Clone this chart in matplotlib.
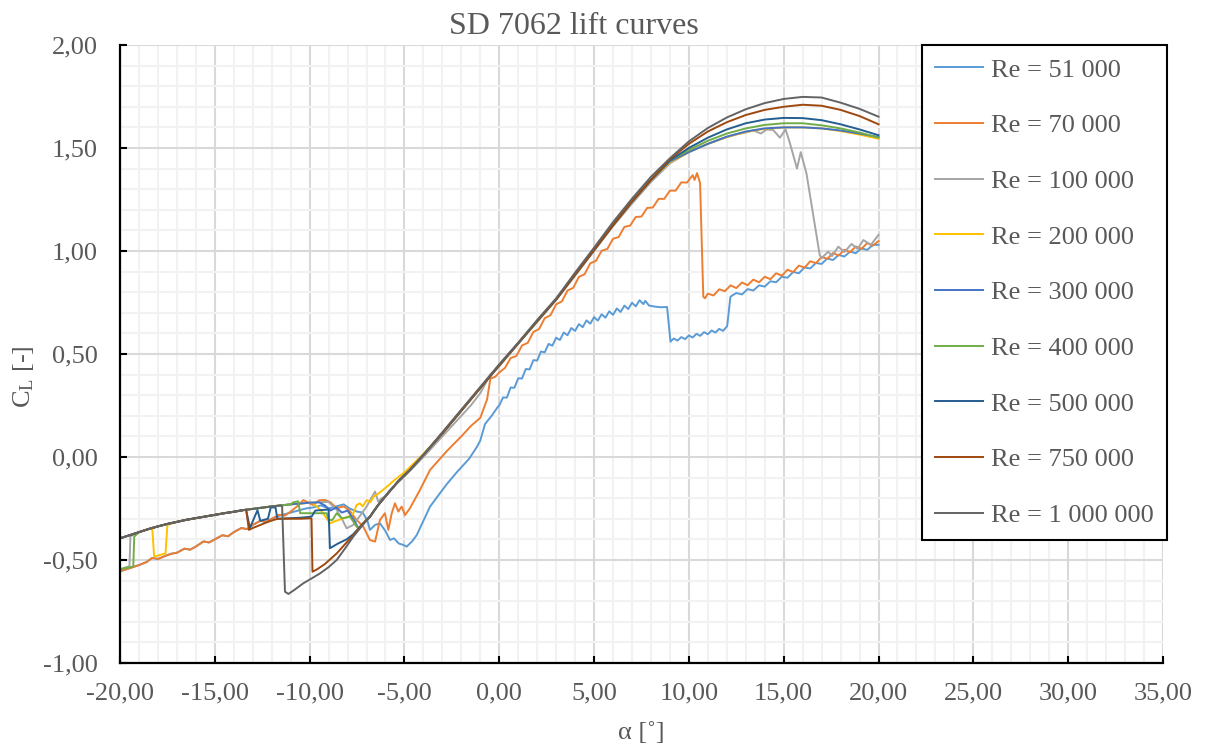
import matplotlib.pyplot as plt
from matplotlib.ticker import MultipleLocator, FuncFormatter

# ---- data (alpha in deg, CL) ----
# branch shared by most curves at strongly negative alpha
upper_a = [-20, -19.5, -19, -18.5, -18, -17.5, -17, -16.5, -16, -15.5, -15, -14.5,
           -14, -13.5, -13, -12.5, -12, -11.5, -11, -10.5, -10, -9.5, -9]
upper_cl = [-0.395, -0.38, -0.365, -0.35, -0.337, -0.325, -0.315, -0.305, -0.297, -0.289,
            -0.281, -0.273, -0.266, -0.258, -0.252, -0.246, -0.24, -0.235, -0.23, -0.226,
            -0.222, -0.22, -0.218]

# lower branch (low Re curves)
lower_a = [-20, -19.5, -19, -18.6, -18.3, -18, -17.6, -17.3, -17, -16.6, -16.3, -16, -15.6,
           -15.3, -15, -14.6, -14.3, -14, -13.6, -13.3, -13, -12.6, -12.3, -12, -11.6, -11.3, -11]
lower_cl = [-0.555, -0.54, -0.525, -0.51, -0.49, -0.495, -0.48, -0.47, -0.465, -0.445, -0.45,
            -0.435, -0.41, -0.415, -0.40, -0.38, -0.385, -0.365, -0.345, -0.35, -0.33, -0.31,
            -0.315, -0.30, -0.28, -0.285, -0.265]

# linear part shared by Re 200k - 750k
lin_a = [-6.82, -6.4, -5.94, -5.3, -4.71, -4, -3, -2, -1, 0, 1, 2, 3, 4, 5, 6, 7, 8]
lin_cl = [-0.29, -0.235, -0.184, -0.115, -0.063, 0.01, 0.115, 0.225, 0.335, 0.445, 0.552,
          0.66, 0.765, 0.885, 1.005, 1.125, 1.24, 1.345]

re51k = [(-11.6, -0.285), (-11.0, -0.27), (-10.6, -0.26), (-10.2, -0.25), (-9.8, -0.245),
         (-9.4, -0.235), (-9.0, -0.25), (-8.6, -0.24), (-8.2, -0.23), (-7.9, -0.25),
         (-7.5, -0.265), (-7.2, -0.27), (-6.95, -0.31), (-6.82, -0.354), (-6.55, -0.33),
         (-6.29, -0.322), (-6.0, -0.36), (-5.76, -0.403), (-5.55, -0.395), (-5.3, -0.42),
         (-5.06, -0.427), (-4.88, -0.435), (-4.6, -0.41), (-4.35, -0.379), (-4.0, -0.31),
         (-3.65, -0.241), (-3.2, -0.185), (-2.75, -0.13), (-2.2, -0.07), (-1.6, -0.01),
         (-1.17, 0.05), (-1.0, 0.08), (-0.75, 0.16), (-0.4, 0.2), (-0.1, 0.24),
         (0.0, 0.25), (0.2, 0.289), (0.4, 0.288), (0.6, 0.337), (0.8, 0.336), (1.0, 0.382),
         (1.2, 0.381), (1.4, 0.427), (1.6, 0.425), (1.8, 0.47), (2.0, 0.468), (2.2, 0.512),
         (2.4, 0.508), (2.6, 0.549), (2.8, 0.54), (3.0, 0.579), (3.2, 0.568), (3.4, 0.604),
         (3.6, 0.591), (3.8, 0.626), (4.0, 0.612), (4.2, 0.645), (4.4, 0.63), (4.6, 0.663),
         (4.8, 0.647), (5.0, 0.679), (5.2, 0.662), (5.4, 0.693), (5.6, 0.676), (5.8, 0.707),
         (6.0, 0.69), (6.2, 0.721), (6.4, 0.704), (6.6, 0.735), (6.8, 0.718), (7.0, 0.749),
         (7.2, 0.731), (7.4, 0.761), (7.6, 0.742), (7.7, 0.758),
         (7.9, 0.735), (8.2, 0.73), (8.5, 0.727), (8.85, 0.728), (9.03, 0.56), (9.2, 0.575),
         (9.4, 0.565), (9.6, 0.582), (9.8, 0.572), (10.0, 0.59), (10.2, 0.58), (10.4, 0.598),
         (10.6, 0.588), (10.8, 0.606), (11.0, 0.596), (11.2, 0.614), (11.4, 0.604),
         (11.6, 0.622), (11.8, 0.612), (12.02, 0.635), (12.19, 0.778),
         (12.5, 0.796), (12.8, 0.789), (13.1, 0.815), (13.4, 0.808), (13.7, 0.833),
         (14.0, 0.827), (14.3, 0.853), (14.6, 0.848), (14.9, 0.875), (15.2, 0.870),
         (15.5, 0.898), (15.8, 0.892), (16.1, 0.920), (16.4, 0.915), (16.7, 0.942),
         (17.0, 0.937), (17.3, 0.964), (17.6, 0.956), (17.9, 0.981), (18.2, 0.973),
         (18.5, 0.997), (18.8, 0.989), (19.1, 1.013), (19.4, 1.005), (19.7, 1.029), (20.0, 1.03)]

re70k = [(-10.6, -0.235), (-10.33, -0.209), (-10.1, -0.22), (-9.81, -0.233), (-9.5, -0.21),
         (-9.19, -0.209), (-8.9, -0.22), (-8.57, -0.249), (-8.2, -0.24), (-7.9, -0.26),
         (-7.52, -0.306), (-7.17, -0.338), (-6.82, -0.403), (-6.55, -0.411), (-6.29, -0.306),
         (-6.03, -0.273), (-5.85, -0.354), (-5.67, -0.273), (-5.5, -0.225), (-5.32, -0.265),
         (-5.15, -0.241), (-4.97, -0.282), (-4.71, -0.249), (-4.18, -0.16), (-3.65, -0.063),
         (-2.75, 0.03), (-2.0, 0.10), (-1.5, 0.15), (-1.0, 0.19), (-0.64, 0.28), (-0.47, 0.38),
         (-0.2, 0.39), (0.0, 0.41), (0.3, 0.432), (0.6, 0.48), (0.9, 0.49), (1.2, 0.541),
         (1.5, 0.554), (1.8, 0.607), (2.1, 0.621), (2.4, 0.674), (2.7, 0.688), (3.0, 0.741),
         (3.3, 0.755), (3.6, 0.808), (3.9, 0.821), (4.2, 0.874), (4.5, 0.887), (4.8, 0.94),
         (5.1, 0.952), (5.4, 1.001), (5.7, 1.01), (6.0, 1.059), (6.3, 1.068), (6.6, 1.117),
         (6.9, 1.123), (7.2, 1.165), (7.5, 1.167), (7.8, 1.209), (8.1, 1.211), (8.4, 1.253),
         (8.7, 1.253), (9.0, 1.293), (9.3, 1.293), (9.6, 1.333), (9.9, 1.332), (10.2, 1.368),
         (10.3, 1.345), (10.43, 1.378), (10.59, 1.33), (10.76, 0.778), (10.85, 0.77),
         (11.0, 0.793), (11.3, 0.784), (11.6, 0.814), (11.9, 0.805), (12.2, 0.833),
         (12.5, 0.82), (12.8, 0.847), (13.1, 0.834), (13.4, 0.861), (13.7, 0.848),
         (14.0, 0.875), (14.3, 0.863), (14.6, 0.892), (14.9, 0.88), (15.2, 0.909),
         (15.5, 0.898), (15.8, 0.929), (16.1, 0.919), (16.4, 0.95), (16.7, 0.941),
         (17.0, 0.971), (17.3, 0.962), (17.6, 0.99), (17.9, 0.978), (18.2, 1.006),
         (18.5, 0.994), (18.8, 1.022), (19.1, 1.01), (19.4, 1.038), (19.7, 1.026), (20.0, 1.048)]

re100k_start = [(-20, -0.545), (-19.5, -0.53), (-19.45, -0.385)]
re100k = [(-8.57, -0.257), (-8.3, -0.3), (-8.05, -0.346), (-7.7, -0.33), (-7.3, -0.28),
          (-6.99, -0.24), (-6.75, -0.2), (-6.55, -0.168), (-6.38, -0.217), (-6.2, -0.2),
          (-6.03, -0.193), (-5.76, -0.16), (-5, -0.095), (-4, 0.0), (-3, 0.1), (-2, 0.2),
          (-1.5, 0.25), (-1.0, 0.31), (-0.47, 0.40), (0, 0.44), (1, 0.55), (2, 0.655),
          (3, 0.762), (4, 0.88), (5, 1.0), (6, 1.12), (7, 1.23), (8, 1.335), (9, 1.425),
          (10, 1.48), (11, 1.52), (12, 1.553), (12.5, 1.566), (13, 1.575), (13.4, 1.585),
          (13.8, 1.57), (14.1, 1.59), (14.45, 1.587), (14.8, 1.55), (15.1, 1.59),
          (15.33, 1.523), (15.7, 1.40), (15.9, 1.48), (16.2, 1.377), (16.9, 0.98),
          (17.0, 0.965), (17.35, 0.997), (17.55, 0.975), (17.88, 1.021), (18.2, 0.995),
          (18.58, 1.034), (18.9, 1.01), (19.2, 1.053), (19.6, 1.03), (20.0, 1.078)]

re200k_dip = [(-18.3, -0.343), (-18.2, -0.484), (-17.6, -0.468), (-17.5, -0.33)]
re200k = [(-9.81, -0.225), (-9.4, -0.26), (-9.1, -0.298), (-8.93, -0.322), (-8.6, -0.31),
          (-8.22, -0.298), (-7.95, -0.29), (-7.7, -0.274), (-7.52, -0.233), (-7.35, -0.225),
          (-7.2, -0.24), (-6.99, -0.209), (-6.8, -0.22), (-6.6, -0.19), (-6.46, -0.184),
          (-6.0, -0.15), (-5.5, -0.11), (-5.0, -0.075), (-4, 0.015)]
top200k = [(9, 1.43), (10, 1.48), (11, 1.52), (12, 1.553), (13, 1.578), (14, 1.593),
           (15, 1.60), (16, 1.60), (17, 1.595), (18, 1.582), (19, 1.565), (20, 1.545)]

re300k = [(-9.2, -0.235), (-8.9, -0.26), (-8.6, -0.245), (-8.3, -0.27), (-8.0, -0.26),
          (-7.7, -0.30), (-7.4, -0.35), (-7.0, -0.305)]
top300k = [(9, 1.435), (10, 1.48), (11, 1.52), (12, 1.555), (13, 1.58), (14, 1.595),
           (15, 1.60), (16, 1.60), (17, 1.595), (18, 1.585), (19, 1.57), (20, 1.553)]

re400k_start = [(-20, -0.545), (-19.3, -0.532), (-19.25, -0.387)]
re400k = [(-10.86, -0.22), (-10.6, -0.215), (-10.5, -0.273), (-9.8, -0.273), (-9.1, -0.273),
          (-9.0, -0.306), (-8.8, -0.306), (-8.57, -0.273), (-8.3, -0.298), (-7.87, -0.29),
          (-7.52, -0.338), (-7.43, -0.346), (-7.0, -0.305)]
top400k = [(9, 1.44), (10, 1.49), (11, 1.535), (12, 1.57), (13, 1.595), (14, 1.612),
           (15, 1.62), (16, 1.62), (17, 1.61), (18, 1.595), (19, 1.575), (20, 1.55)]

re500k = [(-13.35, -0.256), (-13.15, -0.345), (-12.75, -0.258), (-12.6, -0.31),
          (-12.2, -0.30), (-12.05, -0.245), (-11.8, -0.245), (-11.7, -0.30), (-10.5, -0.295),
          (-9.9, -0.29), (-9.7, -0.26), (-9.0, -0.255), (-8.93, -0.443), (-8.5, -0.42),
          (-8.05, -0.40), (-7.7, -0.375), (-7.2, -0.325)]
top500k = [(9, 1.44), (10, 1.50), (11, 1.55), (12, 1.59), (13, 1.62), (14, 1.638),
           (15, 1.646), (16, 1.645), (17, 1.635), (18, 1.615), (19, 1.59), (20, 1.562)]

re750k = [(-13.35, -0.256), (-13.2, -0.354), (-13.0, -0.345), (-12.6, -0.33), (-12.2, -0.315),
          (-11.7, -0.30), (-11.0, -0.30), (-10.5, -0.30), (-10.0, -0.298), (-9.9, -0.30),
          (-9.85, -0.557), (-9.6, -0.545), (-9.2, -0.52), (-8.57, -0.468), (-8.1, -0.42),
          (-7.7, -0.38), (-7.2, -0.325)]
top750k = [(9, 1.445), (10, 1.52), (11, 1.58), (12, 1.625), (13, 1.66), (14, 1.685),
           (15, 1.70), (16, 1.71), (17, 1.705), (18, 1.685), (19, 1.655), (20, 1.615)]

re1m = [(-11.45, -0.24), (-11.3, -0.654), (-11.12, -0.665), (-10.8, -0.645), (-10.33, -0.613),
        (-9.9, -0.59), (-9.45, -0.565), (-9.0, -0.535), (-8.57, -0.50), (-8.1, -0.44),
        (-7.7, -0.387), (-7.2, -0.33), (-6.82, -0.29), (-6.4, -0.235), (-5.94, -0.184),
        (-5.3, -0.115), (-4.71, -0.063), (-4, 0.01), (-3, 0.12), (-2, 0.23), (-1, 0.34),
        (0, 0.45), (1, 0.555), (2, 0.665), (3, 0.77), (4, 0.895), (5, 1.016), (6, 1.14),
        (7, 1.254), (8, 1.36), (9, 1.45), (10, 1.532), (11, 1.597), (12, 1.648), (13, 1.688),
        (14, 1.718), (15, 1.738), (16, 1.748), (17, 1.745), (18, 1.72), (19, 1.69), (20, 1.652)]

labels = ['Re = 51 000', 'Re = 70 000', 'Re = 100 000', 'Re = 200 000', 'Re = 300 000',
          'Re = 400 000', 'Re = 500 000', 'Re = 750 000', 'Re = 1 000 000']
colors = ['#5B9BD5', '#ED7D31', '#A5A5A5', '#FFC000', '#4472C4',
          '#70AD47', '#255E91', '#9E480E', '#636363']


def part(xs, ys, lo, hi):
    return [(x, y) for x, y in zip(xs, ys) if lo <= x <= hi]


curves = [
    part(lower_a, lower_cl, -20, -12) + re51k,
    part(lower_a, lower_cl, -20, -11) + re70k,
    re100k_start + part(upper_a, upper_cl, -19, -9) + re100k,
    part(upper_a, upper_cl, -20, -18.5) + re200k_dip + part(upper_a, upper_cl, -17, -10)
    + re200k + part(lin_a, lin_cl, -3, 8) + top200k,
    part(upper_a, upper_cl, -20, -9.5) + re300k + part(lin_a, lin_cl, -6.82, 8) + top300k,
    re400k_start + part(upper_a, upper_cl, -19, -11) + re400k
    + part(lin_a, lin_cl, -6.82, 8) + top400k,
    part(upper_a, upper_cl, -20, -13.5) + re500k + part(lin_a, lin_cl, -6.82, 8) + top500k,
    part(upper_a, upper_cl, -20, -13.5) + re750k + part(lin_a, lin_cl, -6.82, 8) + top750k,
    part(upper_a, upper_cl, -20, -11.5) + re1m,
]

plt.rcParams['font.family'] = ['Liberation Serif', 'DejaVu Serif']
plt.rcParams['mathtext.fontset'] = 'custom'
plt.rcParams['mathtext.rm'] = 'Liberation Serif'
plt.rcParams['mathtext.it'] = 'Liberation Serif:italic'

txt = '#595959'
fig = plt.figure(figsize=(12.06, 7.46), dpi=100)
ax = fig.add_axes([0.0995, 0.1113, 0.8648, 0.8284])

for pts, lab, col in zip(curves, labels, colors):
    ax.plot([p[0] for p in pts], [p[1] for p in pts], color=col, lw=1.4, label=lab)

ax.set_xlim(-20, 35)
ax.set_ylim(-1, 2)
ax.xaxis.set_major_locator(MultipleLocator(5))
ax.xaxis.set_minor_locator(MultipleLocator(1))
ax.yaxis.set_major_locator(MultipleLocator(0.5))
ax.yaxis.set_minor_locator(MultipleLocator(0.1))
fmt = FuncFormatter(lambda v, p: '{:.2f}'.format(v).replace('.', ','))
ax.xaxis.set_major_formatter(fmt)
ax.yaxis.set_major_formatter(fmt)

ax.grid(which='major', color='#D9D9D9', lw=1.5)
ax.grid(which='minor', color='#F2F2F2', lw=1.5)
ax.set_axisbelow(True)
ax.tick_params(which='major', direction='in', length=5, width=1.5, color='black',
               labelsize=19, labelcolor=txt)
ax.tick_params(axis='x', pad=14)
ax.tick_params(axis='y', pad=16)
ax.tick_params(which='minor', length=0)
for s in ['top', 'right']:
    ax.spines[s].set_visible(False)
for s in ['left', 'bottom']:
    ax.spines[s].set_color('black')
    ax.spines[s].set_linewidth(1.6)

ax.set_title('SD 7062 lift curves', fontsize=23, color=txt, pad=8, x=0.435)
ax.set_xlabel('α [˚]', fontsize=19, color=txt)
ax.set_ylabel(r'C$_\mathrm{L}$ [-]', fontsize=19, color=txt)
ax.xaxis.set_label_coords(0.5, -0.095)
ax.yaxis.set_label_coords(-0.0805, 0.463)

leg = ax.legend(loc='upper left', bbox_to_anchor=(0.769, 1.0), fontsize=19, frameon=True,
                fancybox=False, framealpha=1, edgecolor='black', borderpad=0.5,
                labelspacing=1.22, handlelength=1.8, handletextpad=0.3, borderaxespad=0)
leg.get_frame().set_linewidth(1.5)
for t in leg.get_texts():
    t.set_color(txt)

fig.savefig('out.png', dpi=100)
